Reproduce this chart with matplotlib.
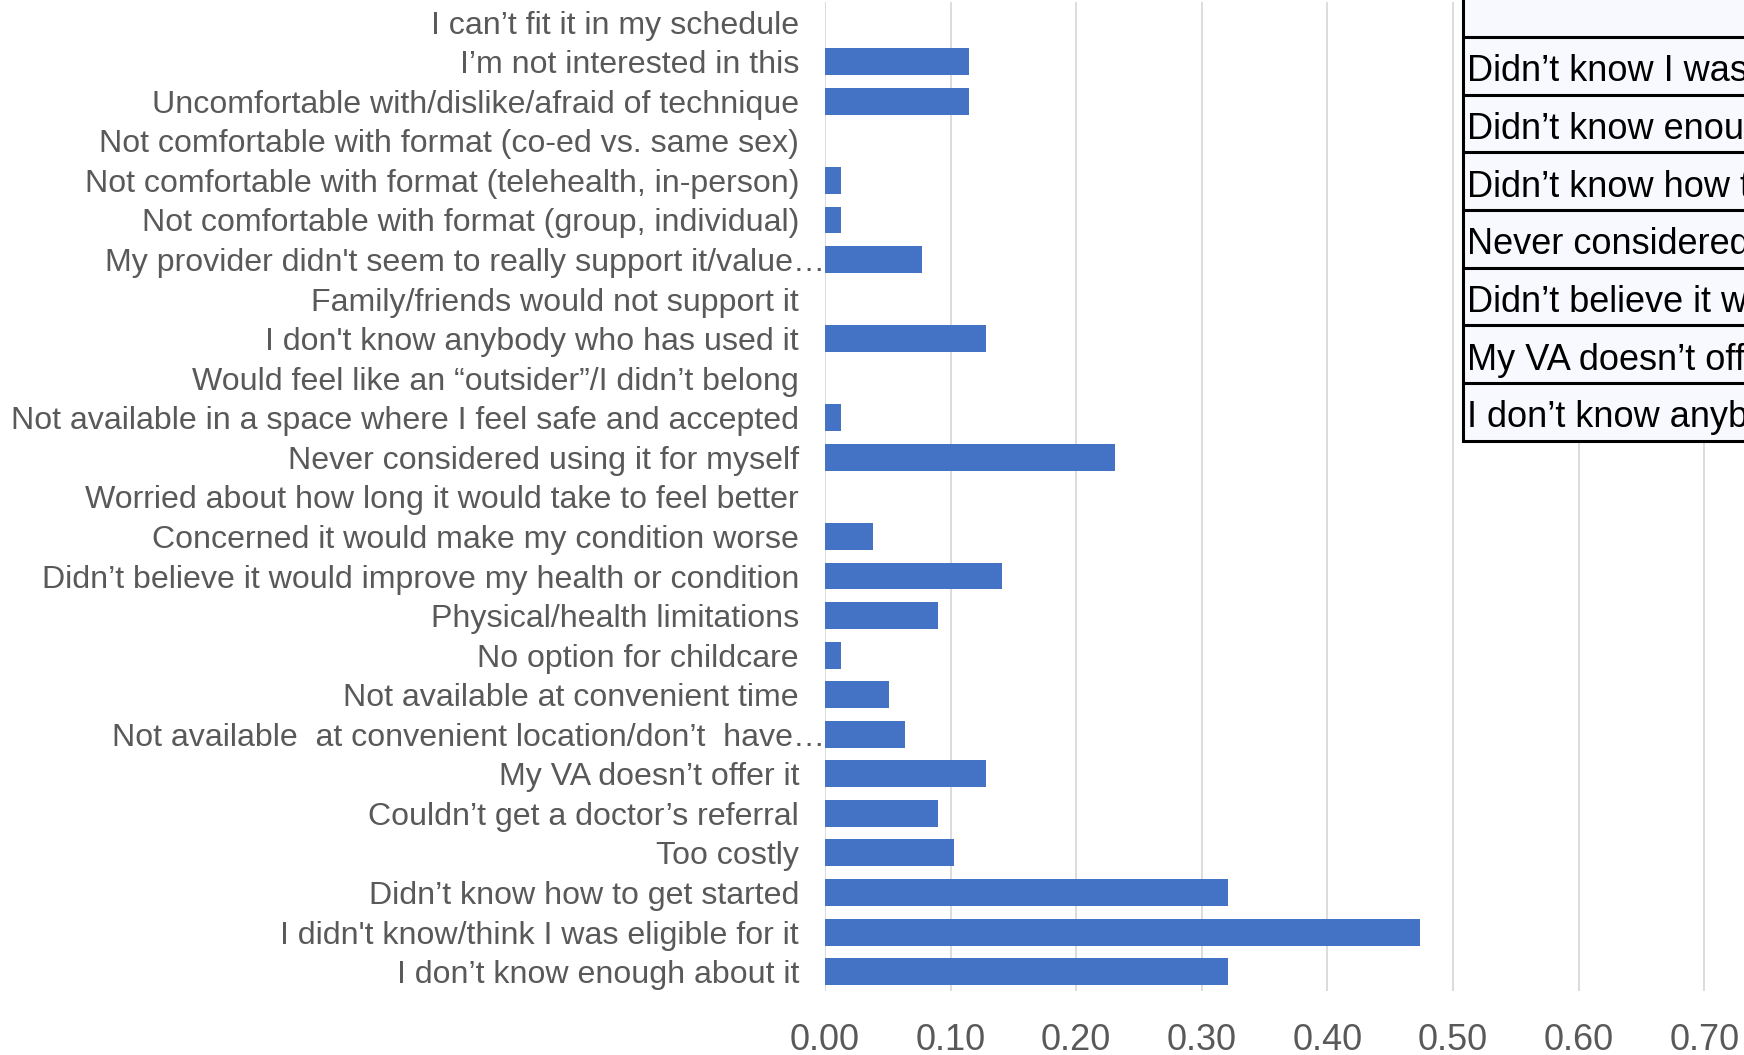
import matplotlib
matplotlib.use("Agg")
import matplotlib.pyplot as plt
from matplotlib.transforms import ScaledTranslation

plt.rcParams["font.family"] = ["Liberation Sans", "DejaVu Sans"]

# Reasons for not using the program, bottom to top
categories = [
    "I don’t know enough about it",
    "I didn't know/think I was eligible for it",
    "Didn’t know how to get started",
    "Too costly",
    "Couldn’t get a doctor’s referral",
    "My VA doesn’t offer it",
    "Not available  at convenient location/don’t  have…",
    "Not available at convenient time",
    "No option for childcare",
    "Physical/health limitations",
    "Didn’t believe it would improve my health or condition",
    "Concerned it would make my condition worse",
    "Worried about how long it would take to feel better",
    "Never considered using it for myself",
    "Not available in a space where I feel safe and accepted",
    "Would feel like an “outsider”/I didn’t belong",
    "I don't know anybody who has used it",
    "Family/friends would not support it",
    "My provider didn't seem to really support it/value…",
    "Not comfortable with format (group, individual)",
    "Not comfortable with format (telehealth, in-person)",
    "Not comfortable with format (co-ed vs. same sex)",
    "Uncomfortable with/dislike/afraid of technique",
    "I’m not interested in this",
    "I can’t fit it in my schedule",
]

shares = [
    0.321, 0.474, 0.321, 0.103, 0.090, 0.128, 0.064, 0.051, 0.013,
    0.090, 0.141, 0.038, 0.0, 0.231, 0.013, 0.0, 0.128, 0.0,
    0.077, 0.013, 0.013, 0.0, 0.115, 0.115, 0.0,
]

x_ticks = [0.0, 0.1, 0.2, 0.3, 0.4, 0.5, 0.6, 0.7, 0.8]

table_rows = [
    "",
    "Didn’t know I was eligible",
    "Didn’t know enough about it",
    "Didn’t know how to get started",
    "Never considered using it for myself",
    "Didn’t believe it would improve my health",
    "My VA doesn’t offer it",
    "I don’t know anybody who has used it",
]

BAR = "#4472C4"
TXT = "#595959"
GRID = "#D9D9D9"

W, H = 1744, 1055
fig = plt.figure(figsize=(W / 100, H / 100), dpi=100)

# Bar chart area (extends past the right edge of the canvas)
ax = fig.add_axes([825 / W, 63.6 / H, 1004.8 / W, 989.0 / H])
ypos = list(range(len(categories)))
ax.barh(ypos, shares, height=0.68, color=BAR, zorder=3)
ax.set_ylim(-0.5, len(categories) - 0.5)
ax.set_xlim(0, 0.8)
ax.set_xticks(x_ticks)
ax.set_xticklabels([f"{v:.2f}" for v in x_ticks])
ax.set_yticks(ypos)
ax.set_yticklabels(categories)
ax.tick_params(axis="both", length=0)
ax.tick_params(axis="x", labelsize=26, labelcolor=TXT, pad=22.5)
ax.tick_params(axis="y", labelsize=23.1, labelcolor=TXT, pad=18.7)
ax.xaxis.grid(True, color=GRID, linewidth=1.3, zorder=0)
ax.yaxis.grid(False)
for s in ax.spines.values():
    s.set_visible(False)
ax.set_axisbelow(True)

# Truncated labels: let the ellipsis hang past the common right edge
shift = ScaledTranslation(26 / 100, 0, fig.dpi_scale_trans)
for lbl in ax.get_yticklabels():
    if lbl.get_text().endswith("…"):
        lbl.set_transform(lbl.get_transform() + shift)

# Summary table overlaid at the upper right
row_h = 57.7
n_rows = len(table_rows)
tax = fig.add_axes([1462.7 / W, (H - 440.7) / H, 700 / W, n_rows * row_h / H])
tax.set_xlim(0, 1)
tax.set_ylim(0, n_rows)
tax.axis("off")
tax.add_patch(plt.Rectangle((0, 0), 1, n_rows, facecolor="#F8F9FE",
                            edgecolor="black", linewidth=2.2, zorder=1,
                            clip_on=False))
for k in range(1, n_rows):
    tax.axhline(k, color="black", linewidth=2.2, zorder=2)
for i, txt in enumerate(table_rows):
    y0 = n_rows - 1 - i
    tax.text(4.5 / 700, y0 + 13.3 / row_h, txt, fontsize=26, color="black",
             va="baseline", ha="left", zorder=3)

fig.savefig("out.png", dpi=100)
